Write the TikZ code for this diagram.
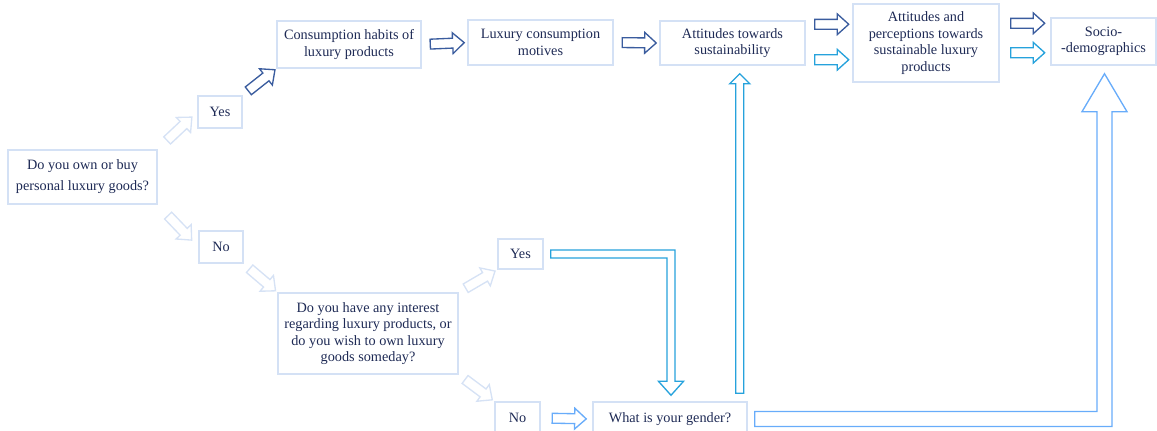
\documentclass[tikz,border=0pt]{standalone}
\usepackage{fontspec}
\setmainfont{Liberation Serif}
\usetikzlibrary{shapes.arrows,calc}

\definecolor{boxline}{RGB}{212,225,245}
\definecolor{paleblue}{RGB}{214,226,245}
\definecolor{darkblue}{RGB}{58,92,158}
\definecolor{cyanblue}{RGB}{38,162,220}
\definecolor{midblue}{RGB}{104,172,250}
\definecolor{navytext}{RGB}{30,42,85}
\newcommand{\pxu}{0.75pt}

\begin{document}
\begin{tikzpicture}[x=0.75pt, y=-0.75pt,
  box/.style={draw=boxline, line width=1.1pt, text=navytext, align=center, inner sep=0pt,
    font=\fontsize{10.7}{12.4}\selectfont},
  blockarr/.style={single arrow, line width=1pt, fill=white, sloped, inner sep=3.2pt,
    minimum height=34*\pxu, single arrow head extend=4.1pt, single arrow tip angle=84},
  palearr/.style={blockarr, draw=paleblue},
  darkarr/.style={blockarr, draw=darkblue},
  cyanarr/.style={blockarr, draw=cyanblue},
  midarr/.style={blockarr, draw=midblue},
  tube/.style={line width=1pt, line join=miter}]
\useasboundingbox (0,0) rectangle (1157,430);

\node[box, minimum width=149*\pxu, minimum height=54*\pxu] (q1) at (82.5,177) {Do you own or buy\\[3.3pt]personal luxury goods?};
\node[box, minimum width=44*\pxu, minimum height=32*\pxu] (yes1) at (220,112) {Yes};
\node[box, minimum width=44*\pxu, minimum height=32*\pxu] (no1) at (221,247) {No};
\node[box, minimum width=144*\pxu, minimum height=47*\pxu] (habits) at (349,44.5) {Consumption habits of\\luxury products};
\node[box, minimum width=145*\pxu, minimum height=45*\pxu] (motives) at (540.5,42.5) {Luxury consumption\\motives};
\node[box, minimum width=145*\pxu, minimum height=44*\pxu] (sustain) at (732.5,43) {Attitudes towards\\sustainability};
\node[box, minimum width=146*\pxu, minimum height=78*\pxu] (attper) at (926,43) {Attitudes and\\perceptions towards\\sustainable luxury\\products};
\node[box, minimum width=105*\pxu, minimum height=47*\pxu] (socio) at (1103.5,41.5) {Socio-\\-demographics};
\node[box, minimum width=180*\pxu, minimum height=81*\pxu] (q2) at (368,333.5) {Do you have any interest\\regarding luxury products, or\\do you wish to own luxury\\goods someday?};
\node[box, minimum width=45*\pxu, minimum height=30*\pxu] (yes2) at (520.5,254) {Yes};
\node[box, minimum width=45*\pxu, minimum height=32*\pxu] (no2) at (517.5,418) {No};
\node[box, minimum width=154*\pxu, minimum height=34*\pxu] (gender) at (670,419) {What is your gender?};

\path (q1.north east) -- node[palearr] {} (yes1.west);
\path (yes1.north east) -- node[darkarr] {} (habits.south west);
\path (q1.south east) -- node[palearr] {} (no1.west);
\path (no1.south east) -- node[palearr] {} (q2.north west);
\path (q2.north east) -- node[palearr] {} (yes2.south west);
\path (q2.south east) -- node[palearr] {} (no2.north west);
\path (no2.east) -- node[midarr] {} (gender.west);
\path (habits.east) -- node[darkarr] {} (motives.west);
\path (motives.east) -- node[darkarr] {} (sustain.west);

\coordinate (d1) at ($(sustain.north east)+(0,4)$);
\coordinate (c1) at ($(sustain.south east)+(0,-6)$);
\coordinate (d2) at ($(socio.north west)+(0,6)$);
\coordinate (c2) at ($(socio.south west)+(0,-13)$);
\path (d1) -- node[darkarr] {} (d1 -| attper.west);
\path (c1) -- node[cyanarr] {} (c1 -| attper.west);
\path (d2 -| attper.east) -- node[darkarr] {} (d2);
\path (c2 -| attper.east) -- node[cyanarr] {} (c2);

\draw[tube, draw=cyanblue] let \p1=($(yes2.east)+(7,0)$), \p2=($(gender.north)+(1,-6)$) in
  (\x1,\y1+3pt) -- (\x2+3pt,\y1+3pt) -- (\x2+3pt,\y2+10.5pt) -- (\x2+9.4pt,\y2+10.5pt) -- (\x2,\y2)
  -- (\x2-9.4pt,\y2+10.5pt) -- (\x2-3pt,\y2+10.5pt) -- (\x2-3pt,\y1-3pt) -- (\x1,\y1-3pt) -- cycle;
\draw[tube, draw=cyanblue] let \p1=($(gender.north east)+(-8,-8)$), \p2=($(sustain.south)+(0,8)$) in
  (\x1-3pt,\y1) -- (\x1-3pt,\y2-7.5pt) -- (\x1-7.5pt,\y2-7.5pt) -- (\x1,\y2) -- (\x1+7.5pt,\y2-7.5pt)
  -- (\x1+3pt,\y2-7.5pt) -- (\x1+3pt,\y1) -- cycle;
\draw[tube, draw=midblue] let \p1=($(gender.east)+(7,0)$), \p2=($(socio.south)+(1,8)$) in
  (\x1,\y1+5.6pt) -- (\x2-5.6pt,\y1+5.6pt) -- (\x2-5.6pt,\y2-28.5pt) -- (\x2-16.9pt,\y2-28.5pt) -- (\x2,\y2)
  -- (\x2+16.9pt,\y2-28.5pt) -- (\x2+5.6pt,\y2-28.5pt) -- (\x2+5.6pt,\y1-5.6pt) -- (\x1,\y1-5.6pt) -- cycle;
\end{tikzpicture}
\end{document}
